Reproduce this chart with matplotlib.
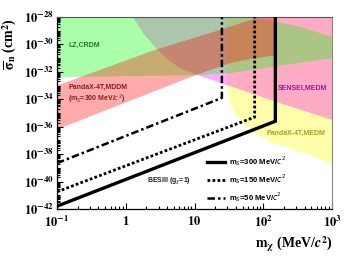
import numpy as np
import matplotlib
matplotlib.use('Agg')
import matplotlib.pyplot as plt
from matplotlib.ticker import LogLocator, FixedLocator, FixedFormatter, NullFormatter

# excluded regions, (mass in MeV, log10 of cross section in cm^2)
lz_m = [0.1, 55, 160, 400, 1000, 1000, 150, 33, 10, 0.1]
lz_logsig = [-28.0, -28.0, -28.36, -28.8, -29.46, -31.0, -31.6, -32.1, -32.25, -32.38]

mddm_m = [0.1, 2.66, 23.4, 89, 148, 148, 63, 33, 10.9, 0.1]
mddm_logsig = [-33.0, -30.4, -28.95, -28.0, -28.0, -30.8, -31.07, -31.36, -32.2, -36.2]

sensei_m = [1.27, 1.78, 2.66, 3.98, 6.15, 10.9, 29.7, 174, 1000, 1000]
sensei_logsig = [-28.0, -29.17, -30.19, -31.07, -31.72, -32.23, -32.96, -34.28, -35.5, -28.0]

medm_m = [29.7, 29.7, 32.8, 41.5, 64, 113, 221, 479, 1000, 1000]
medm_logsig = [-28.0, -33.2, -34.28, -35.3, -36.25, -36.98, -37.56, -38.07, -38.73, -28.0]

# BESIII sensitivity lines
m300 = [0.1, 150, 150]
sig300 = [1.6e-42, 2.5e-36, 1e-28]
m150 = [0.1, 75, 75]
sig150 = [1.8e-41, 5e-36, 1e-28]
m50 = [0.1, 25, 25]
sig50 = [2.2e-39, 1.26e-34, 1e-28]

ytick_vals = [1e-42, 1e-40, 1e-38, 1e-36, 1e-34, 1e-32, 1e-30, 1e-28]
ytick_labels = [r'$\mathbf{10^{-42}}$', r'$\mathbf{10^{-40}}$', r'$\mathbf{10^{-38}}$',
                r'$\mathbf{10^{-36}}$', r'$\mathbf{10^{-34}}$', r'$\mathbf{10^{-32}}$',
                r'$\mathbf{10^{-30}}$', r'$\mathbf{10^{-28}}$']
xtick_vals = [0.1, 1, 10, 100, 1000]
xtick_labels = [r'$\mathbf{10^{-1}}$', r'$\mathbf{1}$', r'$\mathbf{10}$',
                r'$\mathbf{10^{2}}$', r'$\mathbf{10^{3}}$']

plt.rcParams['font.family'] = ['Liberation Sans', 'DejaVu Sans']

fig = plt.figure(figsize=(3.57, 2.57), dpi=100)
ax = fig.add_axes([0.1597, 0.1868, 0.7703, 0.7471])

def fill_region(m, logsig, color):
    ax.fill(m, 10.0 ** np.array(logsig), color=color, alpha=0.33, lw=0, zorder=1)

fill_region(medm_m, medm_logsig, (1, 1, 0))
fill_region(sensei_m, sensei_logsig, (1, 0, 1))
fill_region(lz_m, lz_logsig, (0, 1, 0))
fill_region(mddm_m, mddm_logsig, (1, 0, 0))

l1, = ax.plot(m300, sig300, color='black', lw=2.4, solid_joinstyle='miter', zorder=4)
l2, = ax.plot(m150, sig150, color='black', lw=2.0, ls=(0, (1, 0.8)), zorder=4)
l3, = ax.plot(m50, sig50, color='black', lw=1.8, ls=(0, (3, 1.2, 1, 1.2)), zorder=4)

ax.set_xscale('log')
ax.set_yscale('log')
ax.set_xlim(0.1, 1000)
ax.set_ylim(1e-42, 1e-28)

ax.yaxis.set_major_locator(FixedLocator(ytick_vals))
ax.yaxis.set_major_formatter(FixedFormatter(ytick_labels))
ax.yaxis.set_minor_locator(LogLocator(base=10, subs=np.arange(1, 10), numticks=300))
ax.yaxis.set_minor_formatter(NullFormatter())
ax.xaxis.set_major_locator(FixedLocator(xtick_vals))
ax.xaxis.set_major_formatter(FixedFormatter(xtick_labels))
ax.xaxis.set_minor_locator(LogLocator(base=10, subs=np.arange(2, 10), numticks=100))
ax.xaxis.set_minor_formatter(NullFormatter())

ax.tick_params(which='both', direction='in', top=False, right=False, width=0.8)
ax.tick_params(which='major', length=4.0, labelsize=9, pad=2)
ax.tick_params(which='minor', length=2.0)
ax.tick_params(axis='x', which='major', pad=4)
for lab in ax.get_xticklabels() + ax.get_yticklabels():
    lab.set_math_fontfamily('stix')

for side in ['left', 'bottom']:
    ax.spines[side].set_linewidth(0.9)
ax.spines['top'].set_color('#555555')
ax.spines['right'].set_color('#888888')
ax.spines['top'].set_linewidth(0.8)
ax.spines['right'].set_linewidth(0.8)

tk = dict(fontsize=5, fontweight='bold', ha='left', va='center', zorder=5)
ax.text(0.145, 10 ** -30.04, 'LZ,CRDM', color='#1f7a1f', **tk)
ax.text(0.145, 10 ** -33.1, 'PandaX-4T,MDDM', color='#8b1c1c', **tk)
ax.text(0.145, 10 ** -34.0, r'(m$_S$=300 MeV/$c^2$)', color='#8b1c1c', **tk)
ax.text(164, 10 ** -33.18, 'SENSEI,MEDM', color='#9a1a9a', **tk)
ax.text(113, 10 ** -36.47, 'PandaX-4T,MEDM', color='#a9a020', **tk)
ax.text(2.04, 10 ** -39.97, r'BESIII (g$_\chi$=1)', color='#222222', **tk)

leg = ax.legend([l1, l2, l3],
                [r'm$_S$=300 MeV/$c^2$', r'm$_S$=150 MeV/$c^2$', r'm$_S$=50 MeV/$c^2$'],
                loc='upper left', bbox_to_anchor=(0.545, 0.285), frameon=False,
                prop={'size': 5.5, 'weight': 'bold'}, handlelength=2.4,
                handletextpad=0.5, labelspacing=0.55, borderpad=0, borderaxespad=0)

fig.text(0.028, 0.93, r'$\mathbf{\overline{\sigma}_{n}}$ (cm$^{\mathbf{2}}$)', rotation=90,
         ha='center', va='top', fontsize=10, fontweight='bold',
         family='Liberation Serif', math_fontfamily='stix')
fig.text(0.93, 0.05, r'$\mathbf{m_{\chi}}$ (MeV/$\mathbfit{c}^{\mathbf{2}}$)', ha='right',
         va='center', fontsize=10, fontweight='bold', family='Liberation Serif',
         math_fontfamily='stix')

fig.savefig('out.png', dpi=100)
